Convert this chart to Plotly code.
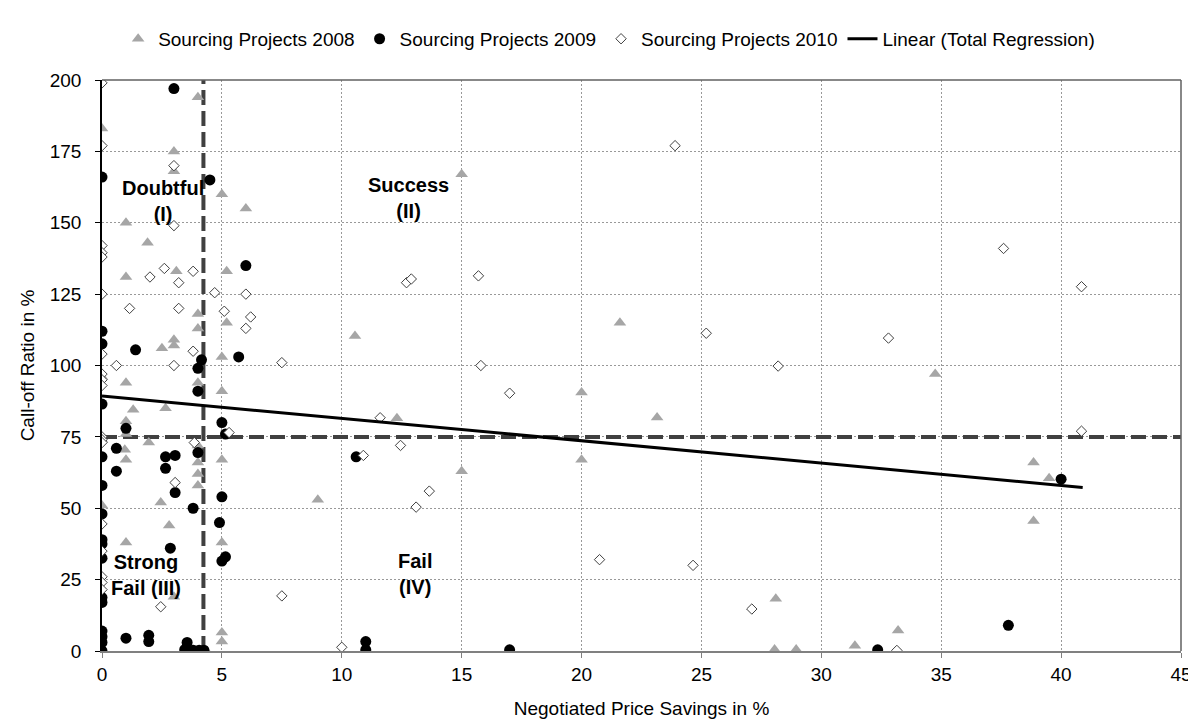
import plotly.graph_objects as go

# ---- data ----
x_2008 = [0, 4.0, 3.0, 3.0, 5.0, 6.0, 1.0, 1.9, 1.0, 3.1, 5.2, 4.0, 5.2, 4.0, 3.0, 3.0, 2.5, 5.0,
          0, 1.0, 4.0, 5.0, 1.3, 2.65, 1.0, 1.0, 0, 1.95, 4.0, 0.95, 1.0, 4.0, 5.0, 4.0, 4.0, 0,
          2.45, 2.8, 1.0, 5.0, 3.0, 4.35, 5.0, 5.0, 9.0, 12.3, 10.55, 15.0, 21.6, 20.0, 34.75,
          23.15, 15.0, 20.0, 38.85, 39.5, 38.85, 28.1, 28.05, 28.95, 31.4, 33.2]
y_2008 = [183, 194, 175, 168, 160, 155, 150, 143, 131, 133, 133, 118, 115, 113, 109, 107, 106, 103,
          96, 94, 94, 91, 84.5, 85, 80.5, 76, 74, 73, 72, 70.5, 67, 66, 67, 62, 58, 51,
          52, 44, 38, 38, 19, 0, 6.5, 3.3, 53, 81.5, 110.3, 167, 115, 90.5, 97,
          81.8, 63, 67, 66, 60.5, 45.5, 18.3, 0.5, 0.5, 1.8, 7.2]

x_2009 = [3.0, 0, 4.5, 6.0, 0, 0, 1.4, 4.15, 5.7, 4.0, 4.0, 0, 1.0, 5.0, 5.15, 0.6, 0, 2.65, 3.05,
          4.0, 0.6, 2.65, 0, 3.05, 5.0, 3.8, 0, 4.9, 0, 0, 2.85, 0, 5.0, 5.15, 0, 0, 0, 0, 0, 0,
          1.0, 1.95, 1.95, 3.55, 3.45, 3.8, 4.05, 4.25, 10.6, 11.0, 11.0, 17.0, 32.35, 37.8, 40.0]
y_2009 = [197, 166, 165, 135, 112, 107.6, 105.5, 102, 103, 99, 91, 86.5, 78, 80, 76, 71, 68, 68, 68.5,
          69.5, 63, 64, 58, 55.5, 54, 50, 48, 45, 39, 37.5, 36, 32.5, 31.5, 33, 18.7, 17, 7, 5, 3, 0,
          4.5, 5.5, 3.3, 3, 0.5, 0.3, 0.3, 0.3, 68, 3.3, 0.4, 0.4, 0.4, 9, 60.2]

x_2010 = [0, 0, 3.0, 3.0, 0, 0, 0, 2.0, 2.6, 3.8, 3.2, 0, 4.7, 6.0, 1.15, 3.2, 5.1, 6.2, 6.0, 0,
          3.8, 0.6, 3.0, 0, 0, 0, 0, 0, 0, 3.85, 5.3, 3.05, 0, 0, 0, 0, 0, 2.45, 11.6, 12.45,
          10.9, 13.65, 13.1, 7.5, 10.0, 23.9, 12.7, 12.9, 15.7, 25.2, 7.5, 15.8, 17.0, 37.6,
          40.85, 32.8, 28.2, 40.85, 20.75, 24.65, 27.1, 33.15]
y_2010 = [199, 177, 170, 149, 142, 139.5, 138, 131, 134, 133, 129, 125, 125.5, 125, 120, 120, 119, 117, 113, 104,
          105, 100, 100, 97, 95, 93, 75, 74, 73, 73, 76.5, 59, 44.5, 35, 26, 24, 21.5, 15.5, 81.7, 72,
          68.5, 56, 50.4, 19.3, 1.3, 177, 129, 130.3, 131.4, 111.3, 101, 100, 90.3, 141,
          127.6, 109.6, 99.8, 77, 32, 30, 14.7, 0.2]

reg_x = [0, 40.9]
reg_y = [89.3, 57.3]

x_threshold = 4.23
y_threshold = 75

quad_text = ["<b>Doubtful<br>(I)</b>", "<b>Success<br>(II)</b>", "<b>Strong<br>Fail (III)</b>", "<b>Fail<br>(IV)</b>"]
quad_x = [2.55, 12.8, 1.85, 13.05]
quad_y = [157.5, 158.5, 26.5, 27.0]

x_range = [0, 45]
y_range = [0, 200]

FONT = "Liberation Sans, Arial, sans-serif"
DASH_COLOR = "#404040"
FS = 19

fig = go.Figure()

# threshold lines
fig.add_trace(go.Scatter(x=[x_threshold, x_threshold], y=y_range, mode="lines",
                         line=dict(color=DASH_COLOR, width=4, dash="15px,6px"),
                         showlegend=False, hoverinfo="skip"))
fig.add_trace(go.Scatter(x=x_range, y=[y_threshold, y_threshold], mode="lines",
                         line=dict(color=DASH_COLOR, width=4, dash="15px,6px"),
                         showlegend=False, hoverinfo="skip"))

fig.add_trace(go.Scatter(x=x_2008, y=y_2008, mode="markers", name="Sourcing Projects 2008",
                         marker=dict(symbol="triangle-up", size=11, color="#a6a6a6")))
fig.add_trace(go.Scatter(x=x_2009, y=y_2009, mode="markers", name="Sourcing Projects 2009",
                         marker=dict(symbol="circle", size=11, color="black")))
fig.add_trace(go.Scatter(x=x_2010, y=y_2010, mode="markers", name="Sourcing Projects 2010",
                         marker=dict(symbol="diamond", size=8, color="white",
                                     line=dict(color="#404040", width=1))))
fig.add_trace(go.Scatter(x=reg_x, y=reg_y, mode="lines", name="Linear (Total Regression)",
                         line=dict(color="black", width=3)))

for t, xx, yy in zip(quad_text, quad_x, quad_y):
    fig.add_annotation(x=xx, y=yy, text=t, showarrow=False,
                       font=dict(family=FONT, size=20, color="black"))

# right and top border
fig.add_shape(type="line", xref="x domain", yref="y domain", x0=1, x1=1, y0=0, y1=1,
              line=dict(color="#606060", width=1.5))
fig.add_shape(type="line", xref="x domain", yref="y domain", x0=0, x1=1, y0=1, y1=1,
              line=dict(color="#606060", width=1.5))

fig.update_layout(
    width=1196, height=722,
    margin=dict(l=94, r=17, t=58, b=79),
    paper_bgcolor="white", plot_bgcolor="white",
    font=dict(family=FONT, size=FS, color="black"),
    showlegend=True,
    legend=dict(orientation="h", x=0.47, xanchor="center", y=1.072, yanchor="middle",
                font=dict(family=FONT, size=FS), itemwidth=30, tracegroupgap=0),
)
fig.update_xaxes(range=x_range, dtick=5, tick0=0, showgrid=True, gridcolor="#999999",
                 griddash="2px,2px", gridwidth=1, showline=True, linecolor="#808080",
                 linewidth=1.5, ticks="outside", ticklen=5, tickcolor="#808080",
                 zeroline=False, tickfont=dict(size=FS),
                 title=dict(text="Negotiated Price Savings in %", font=dict(size=FS), standoff=18))
fig.update_yaxes(range=y_range, dtick=25, tick0=0, showgrid=True, gridcolor="#999999",
                 griddash="2px,2px", gridwidth=1, showline=True, linecolor="black",
                 linewidth=1.5, ticks="outside", ticklen=5, tickcolor="black",
                 zeroline=False, tickfont=dict(size=FS), ticklabelstandoff=10,
                 title=dict(text="Call-off Ratio in %", font=dict(size=FS), standoff=10))

fig.write_html("out.html")
